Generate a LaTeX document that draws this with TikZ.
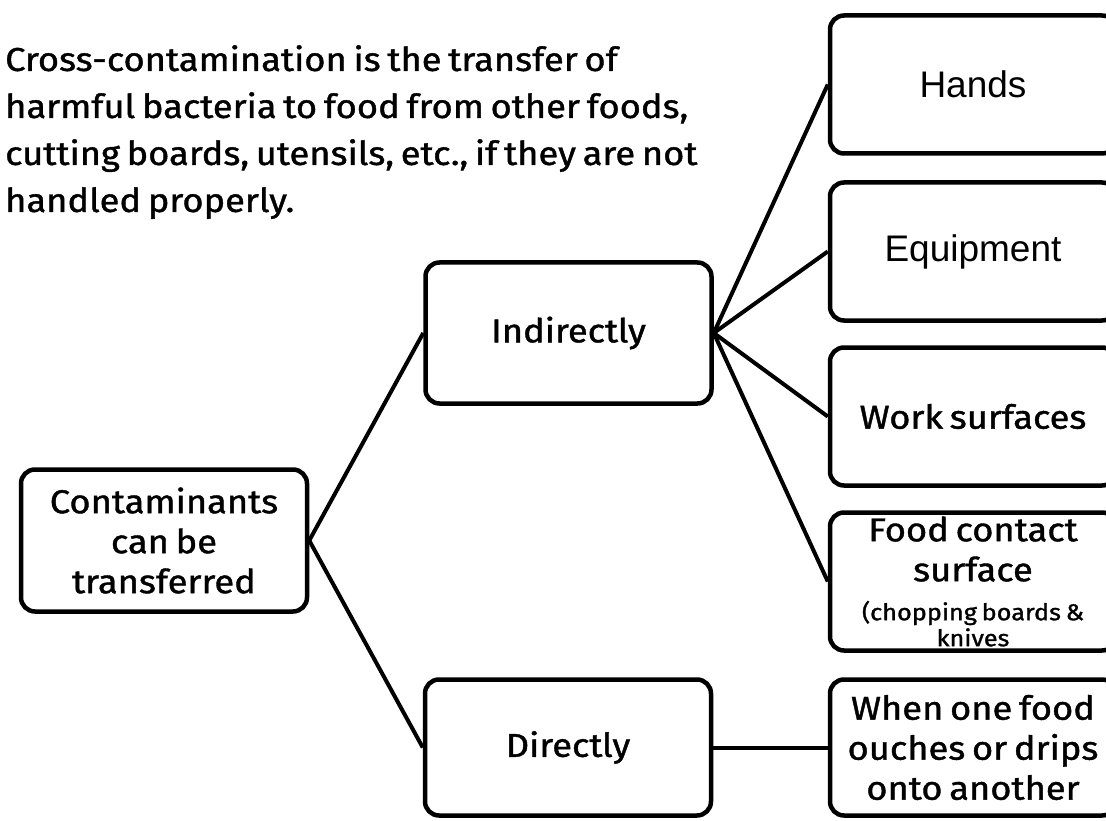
\documentclass[tikz,border=0pt]{standalone}
\usepackage{fontspec}
\setmainfont{Fira Sans}[FakeStretch = 1.1, FakeBold = 1.2, WordSpace = {0.7}]
\newfontfamily\arialfont{Liberation Sans}
\usepackage{tikz}

\begin{document}
\begin{tikzpicture}[x = 1pt, y = -1pt,
			box/.style = {draw, line width = 4.5pt, rounded corners = 14pt, align = center,
				minimum width = 286pt, minimum height = 138pt, inner sep = 0pt,
				font = \fontsize{33}{40}\selectfont},
			link/.style = {line width = 4pt}]
			\useasboundingbox (0, 0) rectangle (1106, 821);
			\node[anchor = north west, align = left, inner sep = 0pt,
				font = \fontsize{33}{47}\selectfont] (intro) at (5, 45)
				{Cross-contamination is the transfer of\\harmful bacteria to food from other foods,\\cutting boards, utensils, etc., if they are not\\handled properly.};
			\node[box, minimum height = 142pt] (cont) at (164, 540.5) {Contaminants\\can be\\transferred};
			\node[box, minimum height = 141pt] (ind) at (568.5, 333) {Indirectly};
			\node[box, minimum height = 136pt] (dir) at (568, 747.5) {Directly};
			\node[box, font = \arialfont\fontsize{37}{40}\selectfont] (hands) at (973, 84.5) {Hands};
			\node[box, font = \arialfont\fontsize{37}{40}\selectfont] (equip) at (973, 251.5) {Equipment};
			\node[box] (work) at (973, 416.5) {Work surfaces};
			\node[box] (food) at (973, 581.5) {Food contact\\surface\\[-1pt]{\fontsize{23}{26}\selectfont (chopping boards \&}\\[-14pt]{\fontsize{23}{26}\selectfont knives}};
			\node[box, minimum height = 136pt] (when) at (973, 747.5) {When one food\\ouches or drips\\onto another};
			\draw[link] (cont.east) -- (ind.west);
			\draw[link] (cont.east) -- (dir.west);
			\foreach \n in {hands, equip, work, food}
			\draw[link] (ind.east) -- (\n.west);
			\draw[link] (dir.east) -- (when.west);
			\end{tikzpicture}
\end{document}
